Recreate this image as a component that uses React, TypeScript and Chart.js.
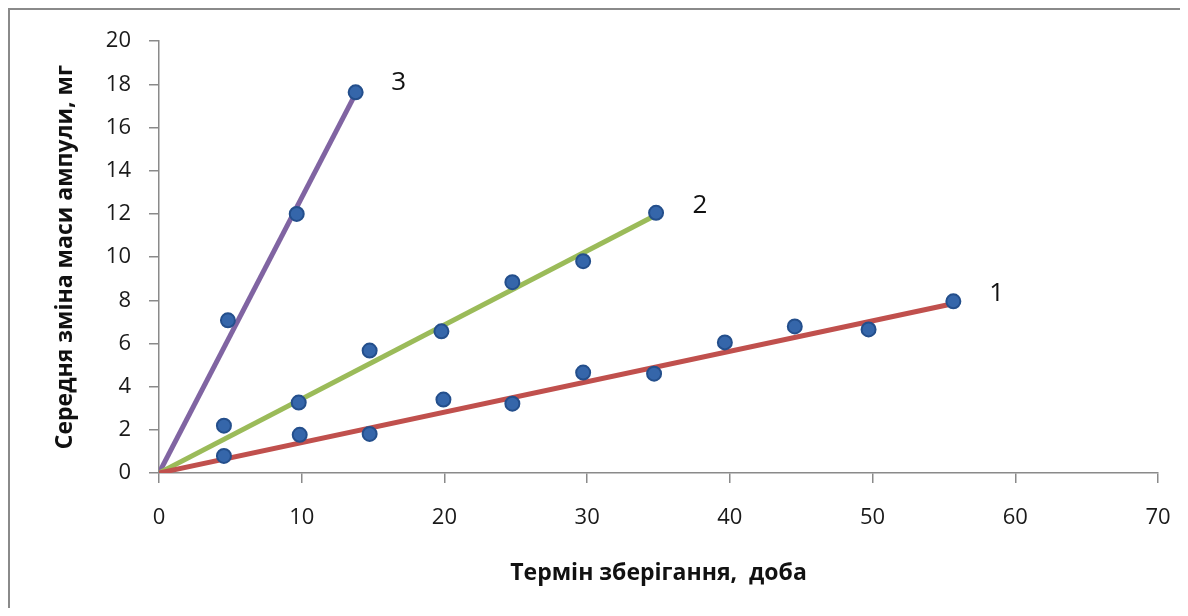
import React, { useEffect, useRef } from "react";
import { Chart, registerables } from "chart.js";

Chart.register(...registerables);

// Series 1 (red trend)
const days1 = [4.55, 9.86, 14.76, 19.93, 24.76, 29.72, 34.69, 39.65, 44.55, 49.72, 55.66];
const mass1 = [0.79, 1.77, 1.81, 3.4, 3.21, 4.65, 4.6, 6.05, 6.79, 6.65, 7.95];
// Series 2 (green trend)
const days2 = [4.55, 9.79, 14.76, 19.79, 24.76, 29.72, 34.83];
const mass2 = [2.19, 3.26, 5.67, 6.56, 8.84, 9.81, 12.05];
// Series 3 (purple trend)
const days3 = [4.83, 9.65, 13.78];
const mass3 = [7.07, 12.0, 17.63];

// Linear trend lines (start, end)
const trend1X = [0, 55.7];
const trend1Y = [0, 7.85];
const trend2X = [0, 34.7];
const trend2Y = [0, 11.9];
const trend3X = [0, 13.64];
const trend3Y = [0, 17.4];

// Series number labels near line ends
const seriesLabels = ["1", "2", "3"];
const labelX = [58.7, 37.9, 16.8];
const labelY = [8.33, 12.37, 18.1];

const xMin = 0, xMax = 70, xStep = 10;
const yMin = 0, yMax = 20, yStep = 2;

const xTitle = "Термін зберігання,  доба";
const yTitle = "Середня зміна маси ампули, мг";

const toPts = (xs: number[], ys: number[]) => xs.map((v, i) => ({ x: v, y: ys[i] }));

const FONT = '"Open Sans", "Noto Sans", sans-serif';

const annotate = {
  id: "annotate",
  afterDatasetsDraw(chart: any) {
    const { ctx, scales } = chart;
    const x = scales.x, y = scales.y;
    ctx.save();
    ctx.fillStyle = "#111";
    ctx.font = `26px ${FONT}`;
    ctx.textAlign = "center";
    ctx.textBaseline = "middle";
    seriesLabels.forEach((t, i) => {
      ctx.fillText(t, x.getPixelForValue(labelX[i]), y.getPixelForValue(labelY[i]));
    });
    ctx.restore();
  },
};

export default function App() {
  const ref = useRef<HTMLCanvasElement | null>(null);

  useEffect(() => {
    if (!ref.current) return;
    const lineDs = (xs: number[], ys: number[], color: string) => ({
      data: toPts(xs, ys),
      showLine: true,
      borderColor: color,
      borderWidth: 5,
      borderCapStyle: "butt",
      pointRadius: 0,
      pointHoverRadius: 0,
      order: 2,
    });
    const markerDs = (xs: number[], ys: number[]) => ({
      data: toPts(xs, ys),
      showLine: false,
      pointRadius: 7,
      pointBackgroundColor: "#3566aa",
      pointBorderColor: "#244f8c",
      pointBorderWidth: 2,
      order: 0,
    });
    const chart = new Chart(ref.current, {
      type: "scatter",
      data: {
        datasets: [
          lineDs(trend1X, trend1Y, "#c0504d"),
          lineDs(trend2X, trend2Y, "#9bbb59"),
          lineDs(trend3X, trend3Y, "#8064a2"),
          markerDs(days1, mass1),
          markerDs(days2, mass2),
          markerDs(days3, mass3),
        ] as any,
      },
      options: {
        animation: false,
        responsive: false,
        layout: { padding: { top: 31, right: 22, bottom: 0, left: 0 } },
        plugins: { legend: { display: false }, tooltip: { enabled: false } },
        scales: {
          x: {
            type: "linear",
            min: xMin,
            max: xMax,
            afterFit: (s: any) => {
              s.height = 135;
              s.paddingLeft = 0;
              s.paddingRight = 0;
            },
            ticks: { stepSize: xStep, padding: 22, color: "#1a1a1a", font: { family: FONT, size: 22 } },
            grid: { drawOnChartArea: false, drawTicks: true, tickLength: 10, color: "#8a8a8a", lineWidth: 1.5 },
            border: { color: "#8a8a8a", width: 1.5 },
            title: {
              display: true,
              text: xTitle,
              color: "#111",
              font: { family: FONT, size: 23, weight: "bold" },
              padding: { top: 0, bottom: 21 },
            },
          },
          y: {
            type: "linear",
            min: yMin,
            max: yMax,
            afterFit: (s: any) => { s.width = 149; },
            ticks: { stepSize: yStep, padding: 18, color: "#1a1a1a", font: { family: FONT, size: 22 } },
            grid: { drawOnChartArea: false, drawTicks: true, tickLength: 10, color: "#8a8a8a", lineWidth: 1.5 },
            border: { color: "#8a8a8a", width: 1.5 },
            title: {
              display: true,
              text: yTitle,
              color: "#111",
              font: { family: FONT, size: 23, weight: "bold" },
              padding: { top: 42, bottom: 0 },
            },
          },
        },
      },
      plugins: [annotate],
    } as any);
    return () => chart.destroy();
  }, []);

  return (
    <div
      style={{
        width: 1172,
        height: 600,
        boxSizing: "border-box",
        borderTop: "2px solid #8a8a8a",
        borderLeft: "2px solid #8a8a8a",
        background: "#fff",
        overflow: "hidden",
      }}
    >
      <canvas ref={ref} width={1170} height={598} style={{ display: "block" }} />
    </div>
  );
}
